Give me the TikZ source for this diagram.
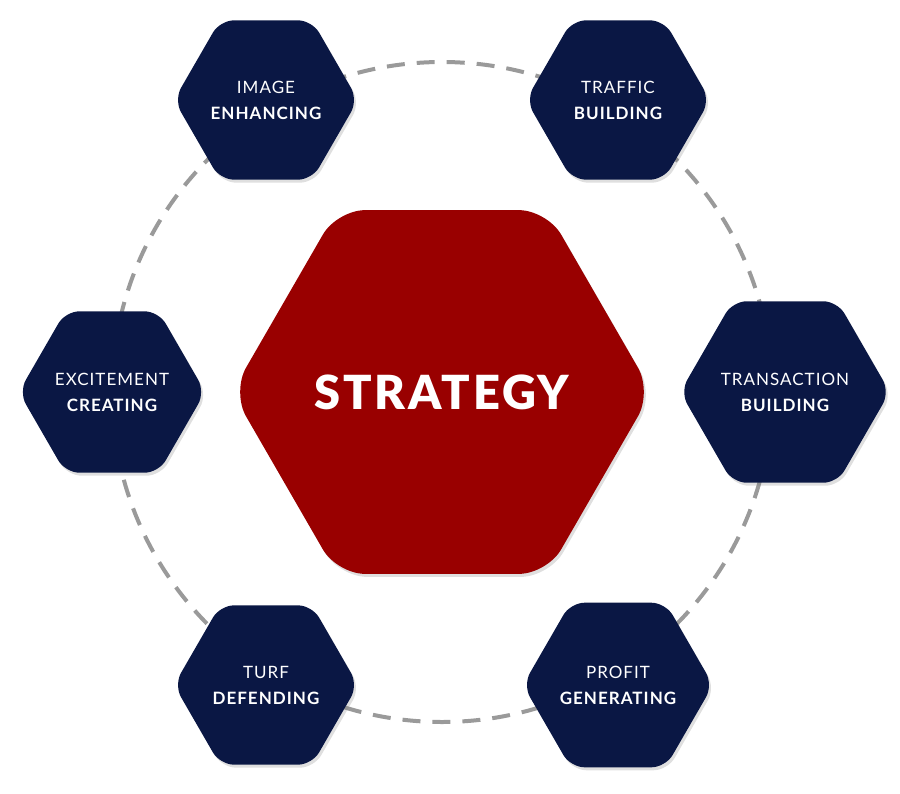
\documentclass[tikz,border=0pt]{standalone}
\usepackage{fontspec}
\setmainfont{Lato}
\newfontfamily\spaced[LetterSpace=6]{Lato}
\newfontfamily\spacedb[LetterSpace=6]{Lato Bold}
\usetikzlibrary{shapes.geometric,shadows}
\definecolor{navy}{HTML}{0A1744}
\definecolor{darkred}{HTML}{990000}
\definecolor{ring}{HTML}{9A9A9A}
\tikzset{
  hexbase/.style={regular polygon, regular polygon sides=6, inner sep=0pt, rounded corners=14pt, text=white, align=center,
    drop shadow={shadow xshift=2pt, shadow yshift=-3pt, opacity=0.25}},
  smallhex/.style={hexbase, fill=navy, minimum size=184pt, font=\fontsize{17}{26}\selectfont},
  bighex/.style={hexbase, fill=darkred, minimum size=420pt, rounded corners=28pt, font=\fontsize{47}{50}\selectfont\bfseries},
}
\begin{document}
\begin{tikzpicture}[x=1pt,y=-1pt]
\useasboundingbox (0,0) rectangle (900,793);
\coordinate (c) at (442,392);
\draw[ring, line width=4pt, dash pattern=on 18pt off 12pt] (c) circle[radius=330];
\node[bighex] (s) at (c) {\spacedb STRATEGY};
\node[smallhex] (ie) at (266,100) {{\spaced IMAGE}\\{\spacedb ENHANCING}};
\node[smallhex] (tb) at (618,100) {{\spaced TRAFFIC}\\{\spacedb BUILDING}};
\node[smallhex] (ec) at (112,392) {{\spaced EXCITEMENT}\\{\spacedb CREATING}};
\node[smallhex] (trb) at (785,392) {{\spaced TRANSACTION}\\{\spacedb BUILDING}};
\node[smallhex] (td) at (266,685) {{\spaced TURF}\\{\spacedb DEFENDING}};
\node[smallhex] (pg) at (618,685) {{\spaced PROFIT}\\{\spacedb GENERATING}};
\end{tikzpicture}
\end{document}
